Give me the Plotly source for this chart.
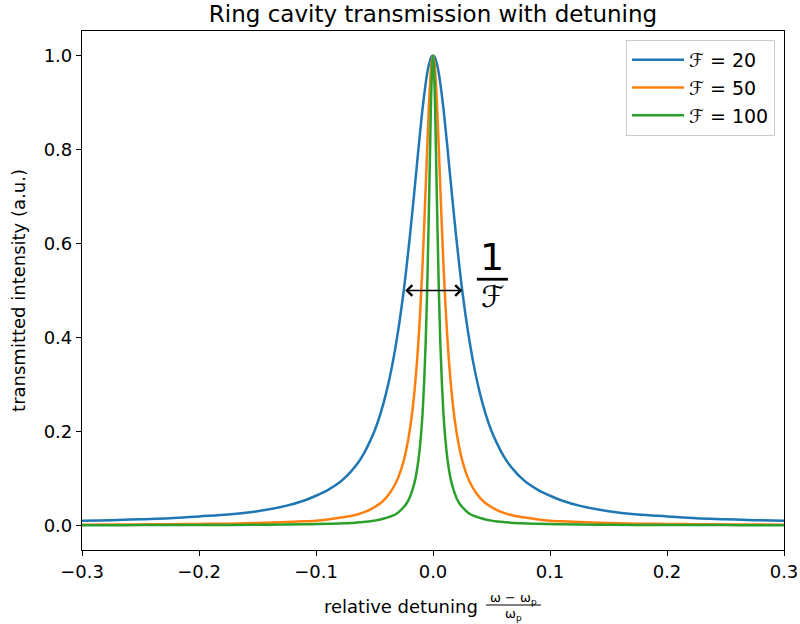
import plotly.graph_objects as go

# detuning grid (positive half; curves are symmetric about 0)
x_half = [0, 0.00125, 0.0025, 0.00375, 0.005, 0.00625, 0.0075, 0.00875, 0.01, 0.0125,
          0.015, 0.0175, 0.02, 0.0225, 0.025, 0.03, 0.035, 0.04, 0.045, 0.05,
          0.055, 0.06, 0.065, 0.07, 0.075, 0.08, 0.09, 0.1, 0.11, 0.125,
          0.15, 0.175, 0.2, 0.225, 0.25, 0.275, 0.3]
f20_half = [1.0, 0.998, 0.990, 0.978, 0.962, 0.941, 0.917, 0.891, 0.862, 0.800,
            0.735, 0.671, 0.610, 0.553, 0.500, 0.411, 0.339, 0.282, 0.237, 0.201,
            0.173, 0.149, 0.130, 0.115, 0.102, 0.091, 0.075, 0.063, 0.053, 0.042,
            0.030, 0.023, 0.019, 0.015, 0.013, 0.011, 0.010]
f50_half = [1.0, 0.985, 0.941, 0.877, 0.800, 0.719, 0.640, 0.566, 0.500, 0.390,
            0.308, 0.246, 0.200, 0.165, 0.138, 0.100, 0.076, 0.059, 0.047, 0.039,
            0.032, 0.027, 0.023, 0.020, 0.018, 0.016, 0.0125, 0.010, 0.0085, 0.007,
            0.005, 0.0036, 0.003, 0.0023, 0.002, 0.0017, 0.0015]
f100_half = [1.0, 0.941, 0.800, 0.640, 0.500, 0.390, 0.308, 0.246, 0.200, 0.138,
             0.100, 0.076, 0.059, 0.047, 0.039, 0.027, 0.020, 0.016, 0.0123, 0.010,
             0.0083, 0.007, 0.006, 0.005, 0.0045, 0.004, 0.0032, 0.0026, 0.0021, 0.0017,
             0.0012, 0.0009, 0.0007, 0.0006, 0.0005, 0.0004, 0.0004]

series_names = ["<i>ℱ</i> = 20", "<i>ℱ</i> = 50", "<i>ℱ</i> = 100"]
series_colors = ["#1f77b4", "#ff7f0e", "#2ca02c"]

x_ticks = [-0.3, -0.2, -0.1, 0.0, 0.1, 0.2, 0.3]
y_ticks = [0.0, 0.2, 0.4, 0.6, 0.8, 1.0]

arrow_x = [-0.025, 0.025]   # FWHM = 1/F for F = 20
arrow_y = 0.5


def mirror(xs, ys):
    left_x = [-v for v in xs[:0:-1]]
    left_y = list(ys[:0:-1])
    return left_x + list(xs), left_y + list(ys)


FONT = "DejaVu Sans"
FS = 18
L, R, T, B = 82, 784, 31, 550
PW, PH = R - L, B - T

fig = go.Figure()
for name, color, half in zip(series_names, series_colors, [f20_half, f50_half, f100_half]):
    xx, yy = mirror(x_half, half)
    fig.add_trace(go.Scatter(x=xx, y=yy, mode="lines", name=name, legendgroup=name,
                             line=dict(color=color, width=2.5, shape="spline", smoothing=1.0)))

axis_common = dict(showline=True, linecolor="black", linewidth=1.2, mirror=True,
                   ticks="outside", ticklen=5, tickwidth=1.2, tickcolor="black",
                   showgrid=False, zeroline=False, automargin=False,
                   tickfont=dict(family=FONT, size=FS, color="black"))

fig.update_layout(
    width=800, height=624,
    margin=dict(l=L, r=800 - R, t=T, b=624 - B),
    paper_bgcolor="white", plot_bgcolor="white",
    font=dict(family=FONT, color="black"),
    title=dict(text="Ring cavity transmission with detuning", x=(L + R) / 2 / 800, xanchor="center",
               y=1 - 14 / 624, yanchor="middle", font=dict(family=FONT, size=23, color="black")),
    xaxis=dict(range=[-0.3, 0.3], tickvals=x_ticks, tickformat=".1f", **axis_common),
    yaxis=dict(range=[-0.0525, 1.0525], tickvals=y_ticks, tickformat=".1f",
               title=dict(text="transmitted intensity (a.u.)", standoff=13,
                          font=dict(family=FONT, size=FS, color="black")),
               **axis_common),
    legend=dict(x=(775 - L) / PW, y=(B - 40) / PH, xanchor="right", yanchor="top",
                bgcolor="rgba(255,255,255,0.8)", bordercolor="#cccccc", borderwidth=1,
                font=dict(family=FONT, size=19, color="black"), tracegroupgap=0,
                itemwidth=52),
    showlegend=True,
)

# double-headed FWHM arrow
fig.add_annotation(x=arrow_x[1], y=arrow_y, ax=arrow_x[0], ay=arrow_y, xref="x", yref="y",
                   axref="x", ayref="y", text="", showarrow=True, arrowside="end+start",
                   arrowhead=4, arrowsize=1.3, arrowwidth=1.6, arrowcolor="black")

# 1/F label
fig.add_annotation(x=0.0505, y=0.572, xref="x", yref="y", text="1", showarrow=False,
                   font=dict(family=FONT, size=38, color="black"), xanchor="center", yanchor="middle")
fig.add_shape(type="line", x0=0.0375, x1=0.064, y0=0.524, y1=0.524, xref="x", yref="y",
              line=dict(color="black", width=2.8))
fig.add_annotation(x=0.051, y=0.487, xref="x", yref="y", text="<i>ℱ</i>", showarrow=False,
                   font=dict(family=FONT, size=30, color="black"), xanchor="center", yanchor="middle")

# x-axis title: "relative detuning (ω − ω_p)/ω_p"
fig.add_annotation(x=(401 - L) / PW, y=(B - 606) / PH, xref="paper", yref="paper",
                   text="relative detuning",
                   showarrow=False, font=dict(family=FONT, size=FS, color="black"),
                   xanchor="center", yanchor="middle")
fig.add_annotation(x=(513 - L) / PW, y=(B - 598) / PH, xref="paper", yref="paper",
                   text="ω − ω<sub>p</sub>", showarrow=False,
                   font=dict(family=FONT, size=13, color="black"), xanchor="center", yanchor="middle")
fig.add_shape(type="line", x0=(486 - L) / PW, x1=(541 - L) / PW, y0=(B - 605) / PH,
              y1=(B - 605) / PH, xref="paper", yref="paper", line=dict(color="black", width=1))
fig.add_annotation(x=(513 - L) / PW, y=(B - 614) / PH, xref="paper", yref="paper",
                   text="ω<sub>p</sub>", showarrow=False,
                   font=dict(family=FONT, size=13, color="black"), xanchor="center", yanchor="middle")

fig.write_html("out.html")
